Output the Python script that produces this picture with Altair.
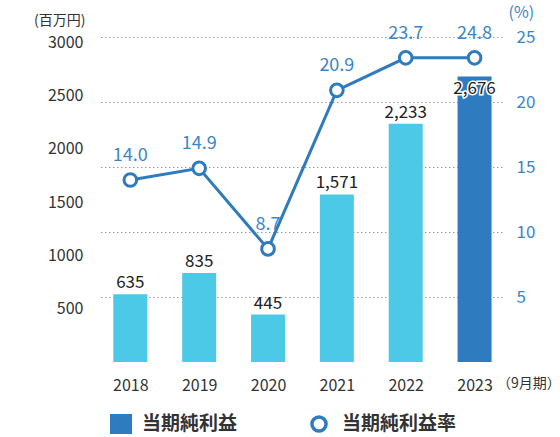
import altair as alt
import pandas as pd

years = [2018, 2019, 2020, 2021, 2022, 2023]
profit = [635, 835, 445, 1571, 2233, 2676]
profit_labels = ["635", "835", "445", "1,571", "2,233", "2,676"]
rate_plotted = [14.0, 14.9, 8.7, 20.9, 23.4, 23.4]
rate_labels = ["14.0", "14.9", "8.7", "20.9", "23.7", "24.8"]
bar_group = ["past", "past", "past", "past", "past", "latest"]

left_ticks = [500, 1000, 1500, 2000, 2500, 3000]
right_ticks = [5, 10, 15, 20, 25]

FONT = "Noto Sans CJK JP"
BLUE = "#2e7bbf"
LIGHT = "#4cc9e6"
LABEL_BLUE = "#3a86c8"
DARK = "#333333"

df = pd.DataFrame({
    "year": years,
    "profit": profit,
    "plabel": profit_labels,
    "rate": rate_plotted,
    "rlabel": rate_labels,
    "group": bar_group,
})

W, H = 402, 325

x_scale = alt.Scale(domain=[2017.632, 2023.326], nice=False, zero=False)
x_axis = alt.Axis(values=years, format="d", title=None, domain=False, ticks=False,
                  grid=False, labelFontSize=16, labelColor=DARK, labelPadding=15,
                  labelFont=FONT)
x_enc = alt.X("year:Q", scale=x_scale, axis=x_axis)

y_left_scale = alt.Scale(domain=[0, 3047], nice=False)
y_left_axis = alt.Axis(values=left_ticks, format="d", title="(百万円)", titleAngle=0,
                       titleX=-15, titleY=-17,
                       titleAlign="right", titleBaseline="middle", titleFontSize=14,
                       titleFontWeight="normal", titleColor=DARK, titleFont=FONT,
                       labelFontSize=16, labelColor=DARK, labelPadding=17, labelFont=FONT,
                       domain=False, ticks=False, grid=False)
y_left = alt.Y("profit:Q", scale=y_left_scale, axis=y_left_axis)

base = alt.Chart(df)

bars = base.mark_bar(size=34).encode(
    x=x_enc,
    y=y_left,
    color=alt.Color("group:N", scale=alt.Scale(domain=["past", "latest"], range=[LIGHT, BLUE]),
                    legend=None),
)

bar_text_main = base.transform_filter(alt.datum.group == "past").mark_text(
    baseline="alphabetic", dy=-6, fontSize=17, color="#222222", font=FONT
).encode(x=x_enc, y=y_left, text="plabel:N")

bar_text_last_halo = base.transform_filter(alt.datum.group == "latest").mark_text(
    baseline="alphabetic", dy=17, fontSize=17, color="white", stroke="white", strokeWidth=3,
    font=FONT
).encode(x=x_enc, y=y_left, text="plabel:N")

bar_text_last = base.transform_filter(alt.datum.group == "latest").mark_text(
    baseline="alphabetic", dy=17, fontSize=17, color="#222222", font=FONT
).encode(x=x_enc, y=y_left, text="plabel:N")

left_layer = alt.layer(bars, bar_text_main, bar_text_last_halo, bar_text_last)

y_right_scale = alt.Scale(domain=[0, 25], nice=False)
y_right_axis = alt.Axis(orient="right", values=right_ticks, title="(%)", titleAngle=0, titleX=6,
                        titleY=-25, titleAlign="left", titleBaseline="middle", titleFontSize=16,
                        titleFontWeight="normal", titleColor=LABEL_BLUE, titleFont=FONT,
                        labelFontSize=17, labelColor=LABEL_BLUE, labelPadding=14, labelFont=FONT,
                        domain=False, ticks=False, grid=True, gridColor="#9a9a9a",
                        gridDash=[1.5, 2.5], gridWidth=1)
y_right = alt.Y("rate:Q", scale=y_right_scale, axis=y_right_axis)

line = base.mark_line(color=BLUE, strokeWidth=3).encode(x=x_enc, y=y_right)
points = base.mark_point(shape="circle", filled=True, fill="white", stroke=BLUE,
                         strokeWidth=3, size=160, opacity=1).encode(x=x_enc, y=y_right)
rate_text = base.mark_text(baseline="alphabetic", dy=-19, fontSize=18, color=LABEL_BLUE,
                           font=FONT).encode(x=x_enc, y=y_right, text="rlabel:N")

one = alt.Data(values=[{"k": 1}])

period_text = alt.Chart(one).mark_text(align="left", baseline="middle", fontSize=14,
                                       color=DARK, font=FONT, text="（9月期）").encode(
    x=alt.value(397), y=alt.value(347))

leg_square = alt.Chart(one).mark_rect(color=BLUE).encode(
    x=alt.value(10), x2=alt.value(32), y=alt.value(377), y2=alt.value(397))
leg_text1 = alt.Chart(one).mark_text(align="left", baseline="middle", fontSize=19,
                                     fontWeight="bold", color=DARK, font=FONT,
                                     text="当期純利益").encode(
    x=alt.value(42), y=alt.value(387))
leg_circle = alt.Chart(one).mark_point(shape="circle", filled=True, fill="white", stroke=BLUE,
                                       strokeWidth=3.5, size=200, opacity=1).encode(
    x=alt.value(219), y=alt.value(387))
leg_text2 = alt.Chart(one).mark_text(align="left", baseline="middle", fontSize=19,
                                     fontWeight="bold", color=DARK, font=FONT,
                                     text="当期純利益率").encode(
    x=alt.value(242), y=alt.value(387))

right_layer = alt.layer(line, points, rate_text, period_text, leg_square, leg_text1,
                        leg_circle, leg_text2)

chart = alt.layer(left_layer, right_layer).resolve_scale(y="independent").properties(
    width=W, height=H,
    autosize=alt.AutoSizeParams(type="none"),
    padding={"left": 100, "top": 37, "right": 58, "bottom": 75},
).configure(font=FONT).configure_view(stroke=None)

chart.save("out.html", embed_options={"renderer": "svg", "actions": False})
